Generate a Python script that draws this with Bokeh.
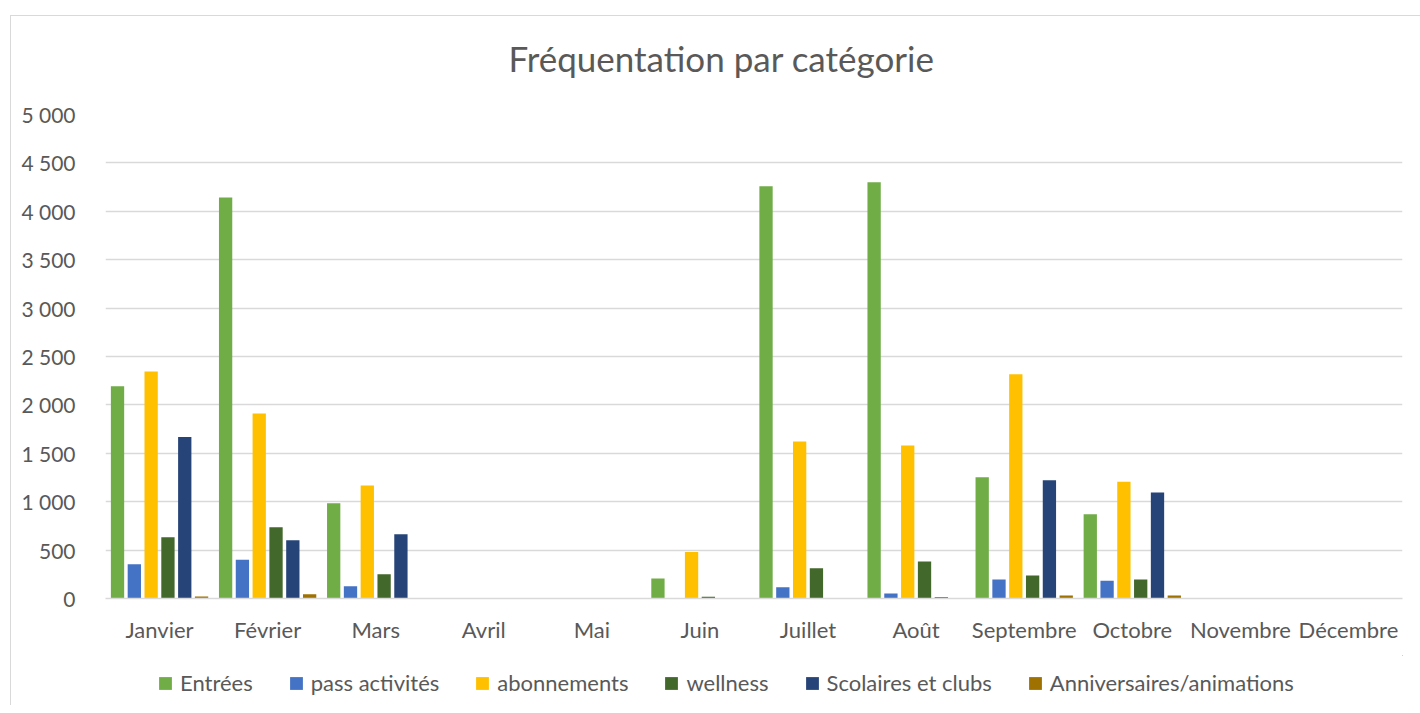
from bokeh.plotting import figure
from bokeh.layouts import column
from bokeh.models import (FactorRange, Range1d, Legend, LegendItem, FixedTicker,
                          Label, ColumnDataSource)
from bokeh.transform import dodge
from bokeh.embed import file_html
from bokeh.resources import INLINE

months = ["Janvier", "Février", "Mars", "Avril", "Mai", "Juin", "Juillet",
          "Août", "Septembre", "Octobre", "Novembre", "Décembre"]
entrees = [2193, 4142, 984, 0, 0, 206, 4259, 4301, 1253, 871, 0, 0]
pass_activites = [354, 400, 127, 0, 0, 0, 117, 52, 196, 183, 0, 0]
abonnements = [2345, 1911, 1167, 0, 0, 480, 1622, 1581, 2317, 1205, 0, 0]
wellness = [633, 737, 251, 0, 0, 18, 313, 382, 238, 196, 0, 0]
scolaires = [1669, 602, 664, 0, 0, 0, 0, 12, 1222, 1095, 0, 0]
anniversaires = [20, 45, 5, 0, 0, 0, 0, 0, 31, 31, 0, 0]

series_names = ["Entrées", "pass activités", "abonnements", "wellness",
                "Scolaires et clubs", "Anniversaires/animations"]
series_values = [entrees, pass_activites, abonnements, wellness, scolaires, anniversaires]
series_colors = ["#70AD47", "#4472C4", "#FFC000", "#43682B", "#264478", "#9E7100"]

y_ticks = [0, 500, 1000, 1500, 2000, 2500, 3000, 3500, 4000, 4500, 5000]
y_tick_labels = ["0", "500", "1 000", "1 500", "2 000", "2 500", "3 000",
                 "3 500", "4 000", "4 500", "5 000"]

title_text = "Fréquentation par catégorie"

FONT = "Lato"
TXT = "#595959"
GRID = "#D9D9D9"
W = 1409


def blank_fig(h):
    f = figure(width=W, height=h, x_range=Range1d(0, 1), y_range=Range1d(0, 1),
               output_backend="svg", toolbar_location=None,
               x_axis_location=None, y_axis_location=None,
               min_border_left=0, min_border_right=0, min_border_top=0,
               min_border_bottom=0)
    f.outline_line_color = None
    f.grid.visible = False
    f.background_fill_color = "white"
    f.border_fill_color = "white"
    return f


# ---- title strip (its frame is aligned with the chart's frame by the column)
tfig = blank_fig(74)
tfig.add_layout(Label(x=616, y=33, x_units="screen", y_units="screen",
                      text=title_text, text_align="center", text_baseline="middle",
                      text_font=FONT, text_font_size="35px", text_color=TXT))

# ---- main chart
data = {"month": months}
for i, vals in enumerate(series_values):
    data[f"s{i}"] = vals
source = ColumnDataSource(data)

p = figure(x_range=FactorRange(factors=months, range_padding=0),
           y_range=Range1d(0, 5000),
           width=W, height=565,
           output_backend="svg", toolbar_location=None,
           min_border_left=94, min_border_right=18, min_border_top=24,
           min_border_bottom=57)
p.outline_line_color = None
p.background_fill_color = "white"
p.border_fill_color = "white"

step = 0.1555
bw = 0.123
for i, color in enumerate(series_colors):
    off = (i - 2.5) * step
    p.vbar(x=dodge("month", off, range=p.x_range), top=f"s{i}", width=bw,
           source=source, fill_color=color, line_color=None)

p.yaxis.ticker = FixedTicker(ticks=y_ticks)
p.yaxis.major_label_overrides = {t: l for t, l in zip(y_ticks, y_tick_labels)}
p.yaxis.axis_line_color = None
p.yaxis.major_tick_line_color = None
p.yaxis.minor_tick_line_color = None
p.yaxis.major_label_standoff = 24
p.yaxis.major_label_text_font = FONT
p.yaxis.major_label_text_font_size = "21px"
p.yaxis.major_label_text_color = TXT

p.xaxis.axis_line_color = GRID
p.xaxis.axis_line_width = 1.5
p.xaxis.major_tick_line_color = None
p.xaxis.minor_tick_line_color = None
p.xaxis.major_label_standoff = 11
p.xaxis.major_label_text_font = FONT
p.xaxis.major_label_text_font_size = "22px"
p.xaxis.major_label_text_color = TXT

p.xgrid.grid_line_color = None
p.ygrid.grid_line_color = GRID
p.ygrid.grid_line_width = 1.3

# ---- legend strip: swatch renderers sit outside the strip's visible range
lfig = blank_fig(50)
items = []
for name, color in zip(series_names, series_colors):
    r = lfig.vbar(x=[5], top=[5], bottom=[4], width=0.1,
                  fill_color=color, line_color=None)
    items.append(LegendItem(label=name, renderers=[r]))
legend = Legend(items=items, orientation="horizontal", location=(52, 9),
                glyph_width=16, glyph_height=16, label_standoff=7, spacing=35,
                padding=0, margin=0, border_line_color=None,
                background_fill_alpha=0,
                label_text_font=FONT, label_text_font_size="22px",
                label_text_color=TXT)
lfig.add_layout(legend)

layout = column(tfig, p, lfig, spacing=0)
layout.margin = (15, 0, 0, 10)
layout.styles = {"border-left": "1px solid #D9D9D9", "border-top": "1px solid #D9D9D9"}

open("out.html", "w").write(file_html(layout, INLINE))
